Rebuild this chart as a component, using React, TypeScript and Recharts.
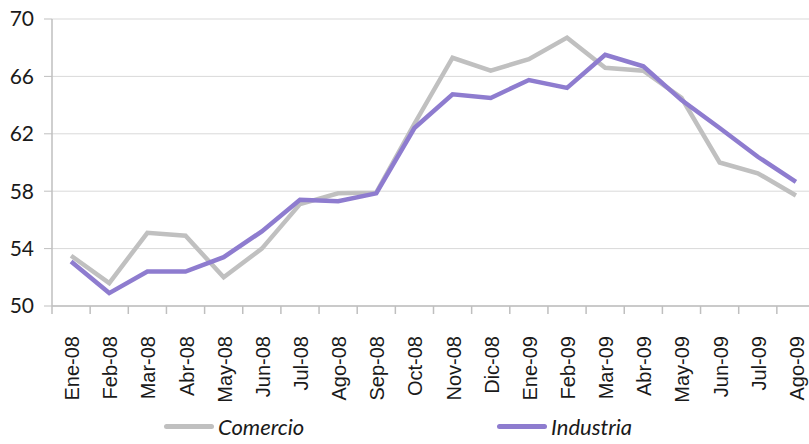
import { CartesianGrid, Line, LineChart, XAxis, YAxis } from 'recharts'

const months = [
  'Ene-08', 'Feb-08', 'Mar-08', 'Abr-08', 'May-08', 'Jun-08', 'Jul-08', 'Ago-08', 'Sep-08', 'Oct-08',
  'Nov-08', 'Dic-08', 'Ene-09', 'Feb-09', 'Mar-09', 'Abr-09', 'May-09', 'Jun-09', 'Jul-09', 'Ago-09',
]
const comercio = [53.5, 51.6, 55.1, 54.9, 52.0, 54.0, 57.1, 57.85, 57.9, 62.7, 67.3, 66.4, 67.2, 68.7, 66.6, 66.4, 64.5, 60.0, 59.25, 57.7]
const industria = [53.1, 50.9, 52.4, 52.4, 53.4, 55.2, 57.4, 57.3, 57.85, 62.4, 64.75, 64.5, 65.75, 65.2, 67.5, 66.7, 64.35, 62.4, 60.4, 58.65]
const yTicks = [50, 54, 58, 62, 66, 70]

const series = [
  { key: 'comercio', name: 'Comercio', color: '#C0C0C0' },
  { key: 'industria', name: 'Industria', color: '#8E7CCF' },
]

const data = months.map((m, i) => ({ month: m, comercio: comercio[i], industria: industria[i] }))

const CHART_W = 827
const LEFT = 52
const RIGHT = 12
const BAND = (CHART_W - LEFT - RIGHT) / months.length

function MonthTick({ x, y, payload, index }: any) {
  const ax = x + 8
  const ay = y + 22
  const left = x - BAND / 2
  return (
    <g>
      <line x1={left} x2={left} y1={306} y2={314} stroke="#BFBFBF" strokeWidth={1.5} />
      {index === months.length - 1 && (
        <line x1={x + BAND / 2} x2={x + BAND / 2} y1={306} y2={314} stroke="#BFBFBF" strokeWidth={1.5} />
      )}
      <text
        x={ax}
        y={ay}
        transform={`rotate(-90, ${ax}, ${ay})`}
        textAnchor="end"
        fontSize={20}
        fontFamily="Liberation Sans"
        fill="#1a1a1a"
      >
        {payload.value}
      </text>
    </g>
  )
}

export default function App() {
  return (
    <div style={{ position: 'absolute', left: 0, top: 0, width: 809, height: 444, overflow: 'hidden', background: '#fff' }}>
      <LineChart width={CHART_W} height={444} data={data} margin={{ top: 19, right: RIGHT, left: 0, bottom: 0 }}>
        <CartesianGrid vertical={false} stroke="#D9D9D9" />
        <XAxis
          dataKey="month"
          scale="band"
          height={138}
          interval={0}
          tick={<MonthTick />}
          tickLine={false}
          axisLine={{ stroke: '#BFBFBF', strokeWidth: 1.5 }}
        />
        <YAxis
          domain={[50, 70]}
          ticks={yTicks}
          width={LEFT}
          tickSize={8}
          tickMargin={10}
          axisLine={{ stroke: '#BFBFBF', strokeWidth: 1.5 }}
          tickLine={{ stroke: '#BFBFBF' }}
          tick={{ fontSize: 21, fontFamily: 'Lato', fill: '#1a1a1a' }}
        />
        {series.map((s) => (
          <Line
            key={s.key}
            dataKey={s.key}
            name={s.name}
            stroke={s.color}
            strokeWidth={4.5}
            dot={false}
            isAnimationActive={false}
          />
        ))}
      </LineChart>
      {series.map((s, i) => (
        <div
          key={s.key}
          style={{
            position: 'absolute',
            left: i === 0 ? 164 : 497,
            top: 413,
            display: 'flex',
            alignItems: 'center',
            fontFamily: 'Lato',
            fontStyle: 'italic',
            fontSize: 22,
            color: '#1a1a1a',
          }}
        >
          <span style={{ display: 'inline-block', width: 50, height: 5, background: s.color, borderRadius: 3, marginRight: 4 }} />
          {s.name}
        </div>
      ))}
    </div>
  )
}
